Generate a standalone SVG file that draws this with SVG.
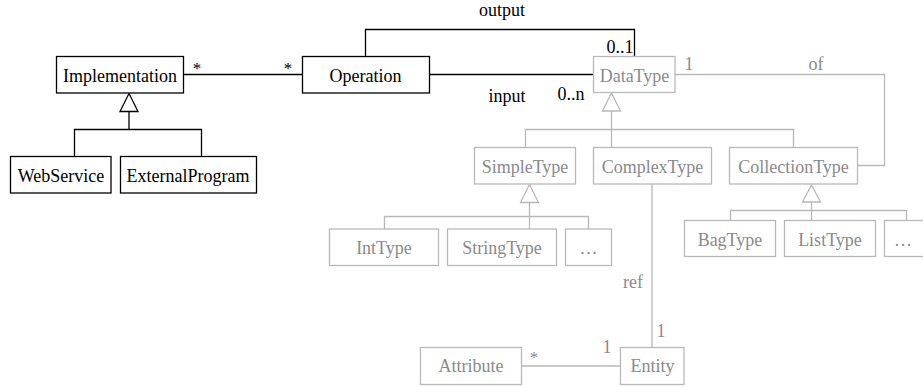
<svg xmlns="http://www.w3.org/2000/svg" width="923" height="387" viewBox="0 0 923 387">
  <style>
    text { font-family: "Liberation Serif", "Times New Roman", serif; font-size: 18px; text-anchor: middle; }
    .lbl { fill: #000; }
    .glbl { fill: #8a8a8a; }
    .ml { font-size: 17px; }
    .box { fill: #fff; stroke: #000; stroke-width: 1.3; }
    .gbox { fill: #fff; stroke: #b8b8b8; stroke-width: 1.3; }
    .ln { fill: none; stroke: #000; stroke-width: 1.3; }
    .gln { fill: none; stroke: #b8b8b8; stroke-width: 1.3; }
    .tri { fill: #fff; stroke: #000; stroke-width: 1.3; }
    .gtri { fill: #fff; stroke: #b8b8b8; stroke-width: 1.3; }
  </style>

  <!-- connectors -->
  <g id="connectors">
    <!-- Implementation * — * Operation -->
    <line class="ln" x1="183" y1="74.5" x2="302.5" y2="74.5"/>
    <text class="lbl ml" x="197" y="74">*</text>
    <text class="lbl ml" x="288" y="74">*</text>

    <!-- Implementation generalization -->
    <polyline class="ln" points="74.5,156.5 74.5,129.5 201.5,129.5 201.5,156.5"/>
    <line class="ln" x1="129" y1="111.5" x2="129" y2="129.5"/>
    <polygon class="tri" points="129,93.5 120,111.5 138,111.5"/>

    <!-- output -->
    <polyline class="ln" points="365.5,56.5 365.5,29.5 634.5,29.5 634.5,56.5"/>
    <text class="lbl" x="502" y="16">output</text>
    <text class="lbl" x="620" y="53">0..1</text>

    <!-- input -->
    <line class="ln" x1="429" y1="74.5" x2="593" y2="74.5"/>
    <text class="lbl" x="507" y="102">input</text>
    <text class="lbl" x="571" y="100">0..n</text>

    <!-- DataType 1 — of — CollectionType -->
    <polyline class="gln" points="675,74.5 884.5,74.5 884.5,165.5 857,165.5"/>
    <text class="glbl" x="689" y="70">1</text>
    <text class="glbl" x="816" y="70">of</text>

    <!-- DataType generalization -->
    <polyline class="gln" points="525.5,147.5 525.5,129.5 793.5,129.5 793.5,147.5"/>
    <line class="gln" x1="611.5" y1="111" x2="611.5" y2="147.5"/>
    <polygon class="gtri" points="611.5,93 602.5,111 620.5,111"/>

    <!-- SimpleType generalization -->
    <polyline class="gln" points="384.5,229 384.5,216.5 588.5,216.5 588.5,229"/>
    <line class="gln" x1="529.5" y1="202.5" x2="529.5" y2="229"/>
    <polygon class="gtri" points="529.5,184.5 520.5,202.5 538.5,202.5"/>

    <!-- CollectionType generalization -->
    <polyline class="gln" points="730.5,220.5 730.5,210.5 906.5,210.5 906.5,220.5"/>
    <line class="gln" x1="811.5" y1="202" x2="811.5" y2="220.5"/>
    <polygon class="gtri" points="811.5,185 802.5,202 820.5,202"/>

    <!-- ComplexType ref — Entity -->
    <line class="gln" x1="652" y1="184" x2="652" y2="347.5"/>
    <text class="glbl" x="633" y="288">ref</text>
    <text class="glbl" x="661" y="337">1</text>

    <!-- Attribute * — 1 Entity -->
    <line class="gln" x1="521.5" y1="366" x2="620.5" y2="366"/>
    <text class="glbl ml" x="534" y="363">*</text>
    <text class="glbl" x="607" y="353">1</text>
  </g>

  <!-- nodes -->
  <g id="implementation">
    <rect class="box" x="56.5" y="56.5" width="127" height="36.5"/>
    <text class="lbl" x="120" y="82">Implementation</text>
  </g>
  <g id="webservice">
    <rect class="box" x="10.5" y="156.5" width="100.5" height="36.5"/>
    <text class="lbl" x="61" y="181.5">WebService</text>
  </g>
  <g id="externalprogram">
    <rect class="box" x="120.5" y="156.5" width="136" height="36.5"/>
    <text class="lbl" x="188" y="181.5">ExternalProgram</text>
  </g>
  <g id="operation">
    <rect class="box" x="302.5" y="56.5" width="127" height="36.5"/>
    <text class="lbl" x="365.5" y="82">Operation</text>
  </g>
  <g id="datatype">
    <rect class="gbox" x="593.5" y="56.5" width="81.5" height="36"/>
    <text class="glbl" x="634.5" y="81.5">DataType</text>
  </g>
  <g id="simpletype">
    <rect class="gbox" x="474.5" y="147.5" width="101" height="36.5"/>
    <text class="glbl" x="525" y="172.5">SimpleType</text>
  </g>
  <g id="complextype">
    <rect class="gbox" x="593.5" y="147.5" width="118" height="36.5"/>
    <text class="glbl" x="652.5" y="172.5">ComplexType</text>
  </g>
  <g id="collectiontype">
    <rect class="gbox" x="729.5" y="147.5" width="128" height="36.5"/>
    <text class="glbl" x="793.5" y="172.5">CollectionType</text>
  </g>
  <g id="inttype">
    <rect class="gbox" x="329.5" y="229" width="109" height="36.5"/>
    <text class="glbl" x="384" y="254">IntType</text>
  </g>
  <g id="stringtype">
    <rect class="gbox" x="447.5" y="229" width="109" height="36.5"/>
    <text class="glbl" x="502" y="254">StringType</text>
  </g>
  <g id="simple-more">
    <rect class="gbox" x="565.5" y="229" width="46" height="36.5"/>
    <text class="glbl" x="588.5" y="254">…</text>
  </g>
  <g id="bagtype">
    <rect class="gbox" x="684.5" y="220.5" width="91" height="36"/>
    <text class="glbl" x="730" y="245.5">BagType</text>
  </g>
  <g id="listtype">
    <rect class="gbox" x="784.5" y="220.5" width="91" height="36"/>
    <text class="glbl" x="830" y="245.5">ListType</text>
  </g>
  <g id="collection-more">
    <rect class="gbox" x="884.5" y="220.5" width="46" height="36"/>
    <text class="glbl" x="903" y="245.5">…</text>
  </g>
  <g id="attribute">
    <rect class="gbox" x="420.5" y="347.5" width="101" height="37"/>
    <text class="glbl" x="471" y="372">Attribute</text>
  </g>
  <g id="entity">
    <rect class="gbox" x="620.5" y="347.5" width="63.5" height="37"/>
    <text class="glbl" x="652.5" y="372">Entity</text>
  </g>
</svg>
